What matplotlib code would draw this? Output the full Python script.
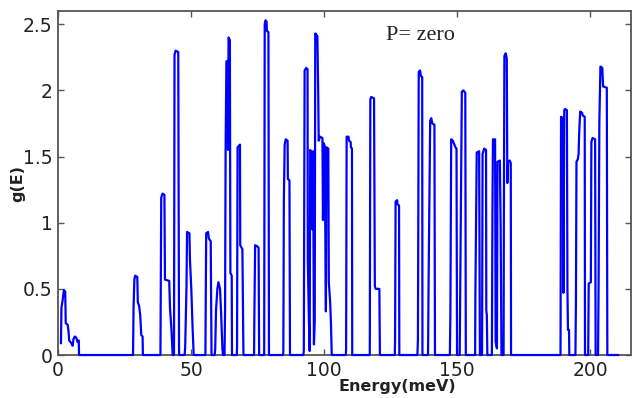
import matplotlib.pyplot as plt
import numpy as np

# Densidad de estados g(E) (P = 0)
# banda baja: 0 - 70 meV
e_low = [1.1, 1.3, 1.7, 2.2, 2.7, 2.9, 3.6, 3.9, 4.2, 5.0, 5.5, 5.8, 6.3, 6.9, 7.3, 7.8, 7.9,
         28.2, 28.4, 28.7, 29.0, 29.8, 30.0, 30.5, 30.9, 31.3, 31.8, 31.9,
         38.5, 38.8, 39.3, 40.0, 40.2, 41.8, 42.1, 42.6, 43.1,
         43.6, 43.8, 44.2, 45.2, 45.5,
         47.6, 47.8, 48.3, 48.5, 49.4, 49.6, 50.1, 50.6, 51.0,
         55.4, 55.7, 56.4, 56.7, 57.4, 57.7,
         58.9, 59.1, 59.4, 59.9, 60.3, 60.9, 61.3, 61.8, 62.0,
         62.6, 62.8, 63.0, 63.3, 63.8, 63.9, 64.1, 64.6, 64.8, 65.3, 65.4,
         67.2, 67.3, 67.5, 68.4, 68.5, 69.3, 69.4, 69.7]
g_low = [0.09, 0.36, 0.41, 0.49, 0.48, 0.24, 0.23, 0.19, 0.11, 0.09, 0.07, 0.12, 0.14, 0.13, 0.10, 0.11, 0.0,
         0.0, 0.36, 0.57, 0.60, 0.59, 0.40, 0.37, 0.30, 0.15, 0.14, 0.0,
         0.0, 1.19, 1.22, 1.21, 0.57, 0.56, 0.35, 0.21, 0.0,
         0.0, 2.27, 2.30, 2.29, 0.0,
         0.0, 0.06, 0.52, 0.93, 0.92, 0.72, 0.50, 0.20, 0.0,
         0.0, 0.92, 0.93, 0.88, 0.86, 0.0,
         0.0, 0.05, 0.34, 0.50, 0.55, 0.50, 0.32, 0.05, 0.0,
         0.0, 0.35, 1.56, 2.22, 2.22, 1.55, 2.40, 2.38, 0.62, 0.60, 0.0,
         0.0, 0.06, 1.57, 1.59, 0.83, 0.80, 0.62, 0.0]

# banda media: 70 - 130 meV
e_mid = [73.7, 73.8, 74.1, 75.0, 75.4, 75.6,
         77.5, 77.7, 78.0, 78.4, 78.5, 79.1, 79.3,
         84.6, 84.7, 84.9, 85.2, 85.6, 86.3, 86.4, 87.0, 87.2,
         92.2, 92.4, 92.7, 93.3, 93.8, 93.9, 94.3, 94.6, 94.8, 95.4, 95.6, 95.9, 96.2, 96.5,
         96.7, 97.2, 97.5, 97.8, 98.0, 98.5, 99.4, 99.6, 99.9, 100.2, 100.4, 100.7, 100.9,
         101.6, 101.8, 102.3, 102.6, 102.9,
         108.2, 108.3, 108.5, 109.2, 109.4, 110.0, 110.1, 110.5, 110.6,
         117.2, 117.4, 117.7, 118.8, 119.1, 119.4, 120.8, 121.0,
         126.6, 126.7, 126.9, 127.5, 127.6, 128.2, 128.3]
g_mid = [0.0, 0.27, 0.83, 0.82, 0.81, 0.0,
         0.0, 2.50, 2.53, 2.52, 2.45, 2.44, 0.0,
         0.0, 0.03, 1.17, 1.59, 1.63, 1.62, 1.33, 1.32, 0.0,
         0.0, 0.03, 2.15, 2.17, 2.16, 0.72, 0.27, 0.03, 1.55, 1.53, 0.95, 1.54, 0.08, 0.25,
         2.43, 2.42, 2.41, 2.00, 1.62, 1.65, 1.64, 1.02, 1.60, 1.58, 1.17, 0.33, 1.57,
         1.56, 0.55, 0.40, 0.24, 0.0,
         0.0, 0.05, 1.65, 1.65, 1.62, 1.61, 1.57, 1.56, 0.0,
         0.0, 1.93, 1.95, 1.94, 0.52, 0.50, 0.50, 0.0,
         0.0, 0.11, 1.16, 1.17, 1.14, 1.13, 0.0]

# banda alta: 130 - 211 meV
e_high = [135.1, 135.3, 135.6, 136.1, 136.4, 136.9, 137.0,
          139.1, 139.3, 139.9, 140.3, 140.7, 141.5, 141.7,
          147.3, 147.5, 147.8, 148.4, 148.8, 149.4, 149.8, 150.0,
          151.0, 151.2, 151.5, 151.8, 152.4, 153.1, 153.3,
          156.8, 156.9, 157.4, 158.3, 158.6,
          159.4, 159.6, 160.2, 160.9, 161.0, 161.2, 161.4,
          163.1, 163.3, 163.5, 164.3, 164.5, 165.0, 165.2, 166.1, 166.4, 166.7,
          167.5, 167.6, 167.8, 168.3, 168.7, 168.9, 169.2, 169.8, 170.2, 170.3,
          188.9, 189.1, 189.8, 190.0, 190.3, 190.6, 191.3, 191.5, 191.7, 192.1, 192.2,
          194.5, 194.7, 194.9, 195.4, 195.7, 195.9, 196.3, 197.0, 197.3, 198.0, 198.1,
          199.3, 199.5, 200.3, 200.5, 200.9, 201.9, 202.1,
          203.0, 203.2, 203.5, 203.9, 204.6, 204.9, 206.3, 206.5, 210.5]
g_high = [0.0, 0.12, 2.14, 2.15, 2.11, 2.10, 0.0,
          0.0, 0.54, 1.77, 1.79, 1.75, 1.74, 0.0,
          0.0, 0.30, 1.63, 1.62, 1.60, 1.57, 1.56, 0.0,
          0.0, 0.50, 1.18, 1.99, 2.00, 1.98, 0.0,
          0.0, 0.47, 1.53, 1.54, 0.0,
          0.0, 1.52, 1.56, 1.55, 0.34, 0.30, 0.0,
          0.0, 1.05, 1.63, 1.63, 0.10, 0.05, 1.46, 1.47, 0.95, 0.0,
          0.0, 1.00, 2.26, 2.28, 2.24, 1.30, 1.46, 1.47, 1.45, 0.0,
          0.0, 1.80, 1.79, 0.47, 1.85, 1.86, 1.85, 0.50, 0.19, 0.19, 0.0,
          0.0, 0.42, 1.46, 1.48, 1.52, 1.67, 1.84, 1.83, 1.81, 1.80, 0.0,
          0.0, 0.54, 0.55, 1.61, 1.64, 1.63, 0.0,
          0.0, 0.50, 1.76, 2.18, 2.17, 2.03, 2.02, 0.0, 0.0]

energy = np.array(e_low + e_mid + e_high)
g = np.array(g_low + g_mid + g_high)

fig = plt.figure(figsize=(6.39, 3.98), dpi=100)
ax = fig.add_axes([0.0908, 0.108, 0.8967, 0.8644])

ax.plot(energy, g, color="#0000ff", linewidth=1.6, clip_on=False, zorder=3)

ax.set_xlim(0, 215.4)
ax.set_ylim(0, 2.6)
ax.set_xticks([0, 50, 100, 150, 200])
ax.set_yticks([0, 0.5, 1, 1.5, 2, 2.5])
ax.set_yticklabels(["0", "0.5", "1", "1.5", "2", "2.5"])
ax.tick_params(direction="in", top=True, right=True, length=4, width=1,
               labelsize=13.5, colors="#555555", labelcolor="#222222")
ax.tick_params(axis="x", pad=4)
ax.tick_params(axis="y", pad=4)
for s in ax.spines.values():
    s.set_color("#555555")
    s.set_linewidth(1.3)

ax.set_xlabel("Energy(meV)", fontsize=11.5, fontweight="bold", color="#222222")
ax.xaxis.set_label_coords(0.592, -0.07)
ax.set_ylabel("g(E)", fontsize=11.5, fontweight="bold", color="#222222")
ax.yaxis.set_label_coords(-0.058, 0.5)

ax.text(0.573, 0.93, "P= zero", transform=ax.transAxes, fontsize=16,
        family="Liberation Serif", color="#222222", ha="left", va="center")

fig.savefig("out.png", dpi=100)
